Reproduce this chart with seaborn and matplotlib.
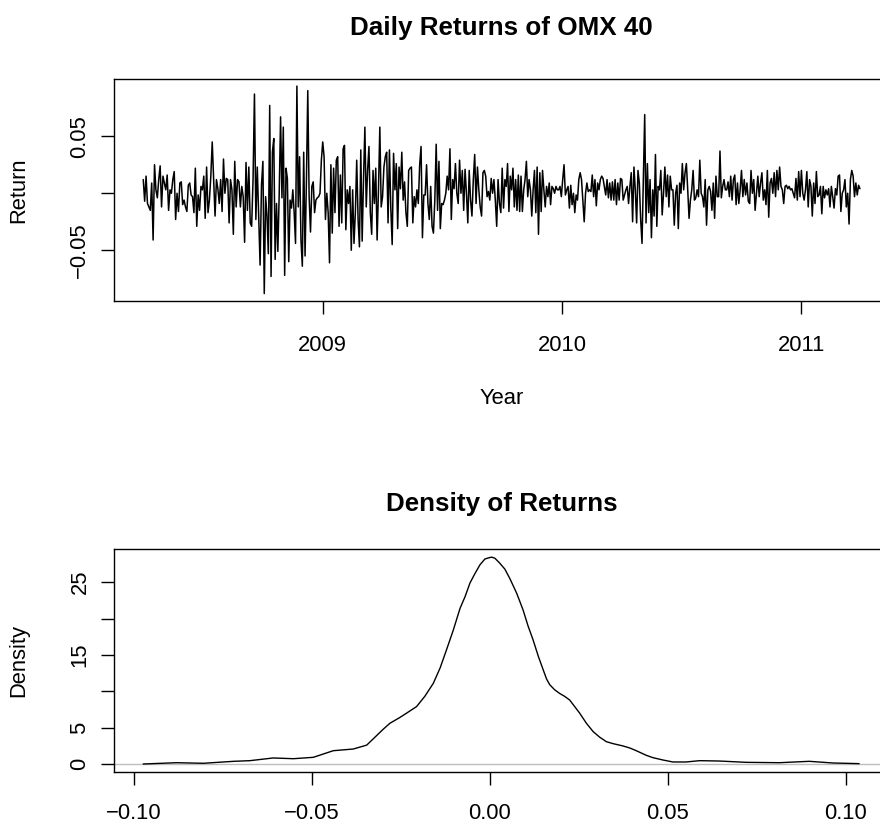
import numpy as np
import pandas as pd
import matplotlib
matplotlib.use("Agg")
import matplotlib.pyplot as plt
import seaborn as sns

# ---------------- data: daily returns (half-year blocks) ----------------
ret_2008_apr_sep = [0.012, -0.007, 0.015, -0.009, -0.012, -0.015, 0.009, -0.041, 0.025, 0.003,
                    -0.004, 0.012, 0.024, -0.012, 0.015, 0.009, 0.003, 0.016, -0.015, 0.003,
                    0.000, 0.012, 0.019, -0.023, 0.000, -0.016, 0.009, 0.010, -0.010, -0.006,
                    -0.012, -0.016, 0.007, 0.009, -0.0015, -0.003, -0.017, 0.022, -0.029, -0.0015,
                    -0.015, 0.006, 0.003, 0.015, -0.022, 0.023, -0.017, -0.006, 0.015, 0.045,
                    0.012, -0.020, 0.012, 0.004, -0.009, 0.012, -0.016, 0.030, 0.000, 0.013,
                    0.012, -0.026, 0.012, 0.003, -0.036, 0.028, -0.012, 0.012, 0.010, -0.012,
                    0.006, -0.003, -0.043, 0.027, -0.015, 0.023, -0.026, -0.029, 0.012, 0.087,
                    -0.023, 0.023, -0.020, -0.063, 0.007]
ret_2008_oct_2009_mar = [0.028, -0.088, -0.003, -0.020, -0.053, 0.077, -0.073, 0.036, 0.048, -0.058,
                         -0.009, -0.051, 0.000, 0.067, -0.004, 0.058, -0.072, 0.022, 0.013, -0.060,
                         -0.006, -0.013, 0.003, -0.017, -0.044, 0.094, -0.012, 0.032, -0.041, -0.064,
                         0.036, -0.055, 0.010, 0.090, -0.003, -0.034, 0.006, 0.010, -0.017, -0.006,
                         -0.004, -0.003, 0.000, 0.029, 0.045, 0.032, -0.023, 0.000, -0.017, -0.061,
                         0.025, -0.035, 0.022, -0.017, 0.029, 0.032, -0.029, 0.016, -0.026, 0.039,
                         0.042, -0.032, 0.003, -0.009, 0.006, -0.050, 0.003, -0.044, -0.017, 0.029,
                         -0.023, -0.047, 0.038, -0.042, 0.012, 0.058, -0.012, 0.020, 0.041, -0.017,
                         -0.036, 0.020, -0.009, 0.022, -0.041, 0.003, 0.058, -0.012]
ret_2009_apr_sep = [-0.003, 0.023, 0.032, 0.036, -0.026, 0.038, -0.013, -0.045, 0.035, 0.003,
                    0.026, -0.031, 0.023, 0.004, 0.036, -0.006, 0.010, -0.017, -0.029, 0.020,
                    0.022, 0.023, -0.026, -0.003, -0.012, 0.003, -0.009, 0.025, 0.041, -0.039,
                    -0.0015, -0.0015, 0.025, -0.009, -0.023, 0.006, -0.029, -0.035, -0.006, 0.043,
                    -0.015, 0.028, -0.031, -0.009, -0.010, -0.006, 0.000, 0.015, 0.003, 0.039,
                    -0.023, 0.012, 0.004, 0.026, 0.000, -0.009, 0.029, 0.000, 0.020, -0.015,
                    0.021, 0.000, -0.026, 0.020, -0.006, -0.020, 0.012, 0.034, -0.009, 0.023,
                    0.003, -0.012, -0.020, 0.018, 0.020, 0.015, -0.003, 0.0015, -0.006, 0.013,
                    0.000, 0.012, -0.006, -0.029, 0.012, -0.009, -0.017]
ret_2009_oct_2010_mar = [0.022, -0.013, 0.012, 0.006, 0.026, -0.016, 0.015, 0.003, 0.022, -0.012,
                         0.012, -0.015, 0.016, -0.016, 0.015, -0.016, 0.003, 0.012, 0.028, -0.003,
                         0.012, 0.003, -0.020, 0.003, 0.020, -0.017, 0.023, -0.036, 0.018, -0.016,
                         0.020, 0.003, -0.012, 0.006, -0.003, 0.009, -0.010, 0.006, 0.004, 0.000,
                         0.006, 0.003, 0.003, 0.006, -0.003, 0.012, 0.025, -0.0015, 0.003, 0.006,
                         -0.013, 0.007, -0.010, 0.000, -0.017, -0.0015, -0.006, 0.012, 0.018, 0.012,
                         -0.006, -0.025, 0.000, 0.009, 0.0015, 0.003, 0.0015, 0.016, -0.003, 0.012,
                         -0.011, 0.009, 0.003, 0.012, 0.015, 0.013, 0.006, -0.0015, 0.012, -0.004,
                         0.009, -0.006, 0.010, -0.006, 0.012, -0.010, 0.009, -0.006, 0.013]
ret_2010_apr_sep = [0.012, -0.006, -0.0015, 0.003, 0.006, -0.009, 0.006, 0.018, -0.025, 0.023,
                    0.003, -0.026, 0.020, 0.009, -0.023, -0.044, 0.012, 0.069, -0.026, 0.026,
                    -0.017, 0.012, -0.039, 0.003, -0.020, 0.034, -0.029, 0.006, 0.003, 0.020,
                    -0.019, 0.000, 0.023, -0.003, 0.016, -0.012, 0.015, 0.003, 0.003, -0.028,
                    0.000, 0.007, -0.031, 0.009, 0.000, 0.026, 0.003, 0.018, 0.026, 0.003,
                    -0.022, -0.006, 0.003, 0.020, -0.006, -0.004, 0.003, -0.003, 0.029, 0.000,
                    -0.003, -0.012, 0.012, -0.028, 0.003, 0.006, 0.0015, -0.015, 0.009, -0.022,
                    0.015, -0.003, -0.003, 0.037, -0.004, 0.006, 0.012, 0.003, 0.003, 0.010,
                    -0.003, 0.015, -0.006, 0.012, 0.016, -0.010, 0.009, -0.009, 0.003]
ret_2010_oct_2011_mar = [0.020, -0.003, 0.012, -0.0015, 0.009, -0.007, -0.009, 0.020, 0.000, 0.012,
                         -0.015, 0.000, 0.015, -0.003, 0.009, 0.018, -0.006, 0.003, -0.010, 0.020,
                         -0.021, 0.009, 0.013, 0.000, 0.018, -0.003, 0.020, 0.003, 0.023, 0.006,
                         0.003, -0.009, 0.006, 0.007, 0.004, 0.006, 0.003, 0.004, 0.000, -0.004,
                         0.013, -0.006, 0.019, -0.003, 0.020, 0.000, -0.006, 0.003, 0.019, -0.012,
                         0.012, 0.006, -0.020, 0.009, -0.009, 0.019, -0.003, -0.0015, 0.006, -0.018,
                         0.006, -0.004, 0.003, -0.0015, 0.004, -0.012, 0.006, -0.003, -0.013, 0.004,
                         -0.0015, 0.015, 0.016, -0.016, 0.000, 0.003, 0.012, -0.012, 0.000, -0.027,
                         0.012, 0.020, 0.015, -0.003, 0.009, -0.0015, 0.007, 0.004]

period_starts = [2008.25, 2008.75, 2009.25, 2009.75, 2010.25, 2010.75]
last_day = 2011.245

year_ticks = [2009, 2010, 2011]
year_ticklabels = ["2009", "2010", "2011"]
return_ticks = [-0.05, 0.0, 0.05]
return_ticklabels = ["\u22120.05", "", "0.05"]

# ---------------- data: density curve ----------------
density_x = [-0.0974, -0.088, -0.0805, -0.072, -0.0674, -0.0609, -0.0552, -0.0496, -0.044, -0.0384,
             -0.0346, -0.0300, -0.0281, -0.0253, -0.0234, -0.0206, -0.0183, -0.0159, -0.0140, -0.0122,
             -0.0103, -0.0084, -0.0070, -0.0056, -0.0042, -0.0028, -0.0014, 0.0000, 0.0005, 0.0014,
             0.0028, 0.0042, 0.0056, 0.0075, 0.0093, 0.0107, 0.0121, 0.0136, 0.0150, 0.0159,
             0.0168, 0.0182, 0.0196, 0.0210, 0.0224, 0.0238, 0.0252, 0.0271, 0.0290, 0.0308,
             0.0327, 0.0346, 0.0374, 0.0393, 0.0411, 0.0439, 0.0458, 0.0486, 0.0514, 0.0551,
             0.0589, 0.0645, 0.0720, 0.0813, 0.0897, 0.0963, 0.1037]
density_y = [0.00, 0.18, 0.10, 0.37, 0.46, 0.83, 0.73, 0.92, 1.83, 2.06,
             2.60, 4.77, 5.60, 6.40, 7.00, 7.90, 9.30, 11.10, 13.20, 15.70,
             18.40, 21.40, 23.00, 24.90, 26.20, 27.40, 28.20, 28.40, 28.45, 28.30,
             27.60, 26.80, 25.50, 23.50, 21.20, 19.00, 17.10, 14.80, 12.90, 11.70,
             10.90, 10.20, 9.70, 9.30, 8.80, 7.90, 7.00, 5.60, 4.45, 3.70,
             3.07, 2.80, 2.48, 2.20, 1.83, 1.20, 0.87, 0.55, 0.28, 0.28,
             0.46, 0.41, 0.23, 0.18, 0.37, 0.14, 0.05]
density_xticks = [-0.10, -0.05, 0.0, 0.05, 0.10]
density_xticklabels = ["\u22120.10", "\u22120.05", "0.00", "0.05", "0.10"]
density_yticks = [0, 5, 10, 15, 20, 25]
density_yticklabels = ["0", "5", "", "15", "", "25"]

# ---------------- build tables ----------------
blocks = [ret_2008_apr_sep, ret_2008_oct_2009_mar, ret_2009_apr_sep,
          ret_2009_oct_2010_mar, ret_2010_apr_sep, ret_2010_oct_2011_mar]
ends = period_starts[1:] + [last_day]
frames = []
for i, (start, end, vals) in enumerate(zip(period_starts, ends, blocks)):
    yrs = np.linspace(start, end, len(vals), endpoint=(i == len(blocks) - 1))
    frames.append(pd.DataFrame({"year": yrs, "ret": vals}))
returns_df = pd.concat(frames, ignore_index=True)
density_df = pd.DataFrame({"x": density_x, "density": density_y})

# ---------------- style ----------------
sns.set_theme(style="white")
plt.rcParams["font.family"] = ["Liberation Sans", "DejaVu Sans"]
plt.rcParams.update({
    "axes.edgecolor": "black",
    "axes.linewidth": 1.0,
    "text.color": "black",
    "axes.labelcolor": "black",
    "xtick.color": "black",
    "ytick.color": "black",
})

FS = 15.8
W, H = 880.0, 825.0
fig = plt.figure(figsize=(W / 100, H / 100), dpi=100)
ax1 = fig.add_axes([114.3 / W, 1 - 301 / H, 774.6 / W, 222 / H])
ax2 = fig.add_axes([114.3 / W, 1 - 772.3 / H, 774.4 / W, 223.3 / H])

# top: returns series
sns.lineplot(data=returns_df, x="year", y="ret", ax=ax1, color="black",
             linewidth=1.1, estimator=None, sort=False)
ax1.set_xlim(2008.129, 2011.366)
ax1.set_ylim(-0.0945, 0.1002)
ax1.set_xticks(year_ticks, year_ticklabels)
ax1.set_yticks(return_ticks, return_ticklabels)
ax1.set_title("Daily Returns of OMX 40", fontsize=18.7, fontweight="bold", pad=32)
ax1.set_xlabel("Year", fontsize=FS)
ax1.set_ylabel("Return", fontsize=FS)
ax1.xaxis.set_label_coords(0.5, -98 / 222)
ax1.yaxis.set_label_coords(-96 / 774.6, 0.5)

# bottom: density
ax2.axhline(0, color="#BEBEBE", linewidth=1.0, zorder=1)
sns.lineplot(data=density_df, x="x", y="density", ax=ax2, color="black",
             linewidth=1.0, estimator=None, sort=False, zorder=2)
ax2.set_xlim(-0.1055, 0.112)
ax2.set_ylim(-1.14, 29.57)
ax2.set_xticks(density_xticks, density_xticklabels)
ax2.set_yticks(density_yticks, density_yticklabels)
ax2.set_title("Density of Returns", fontsize=18.7, fontweight="bold", pad=27)
ax2.set_xlabel("", fontsize=FS)
ax2.set_ylabel("Density", fontsize=FS)
ax2.yaxis.set_label_coords(-96 / 774.4, 0.5)

for ax in (ax1, ax2):
    ax.xaxis.label.set_va("center")
    ax.yaxis.label.set_va("center")
    ax.tick_params(axis="both", direction="out", length=9.4, width=1.0,
                   labelsize=FS, left=True, bottom=True)
    ax.tick_params(axis="y", pad=7.8)
    for lab in ax.get_yticklabels():
        lab.set_rotation(90)
        lab.set_va("center")
    for sp in ax.spines.values():
        sp.set_visible(True)
        sp.set_color("black")
        sp.set_linewidth(1.0)
    ax.grid(False)

ax1.tick_params(axis="x", pad=15)
ax2.tick_params(axis="x", pad=12.5)

fig.savefig("out.png", dpi=100)
